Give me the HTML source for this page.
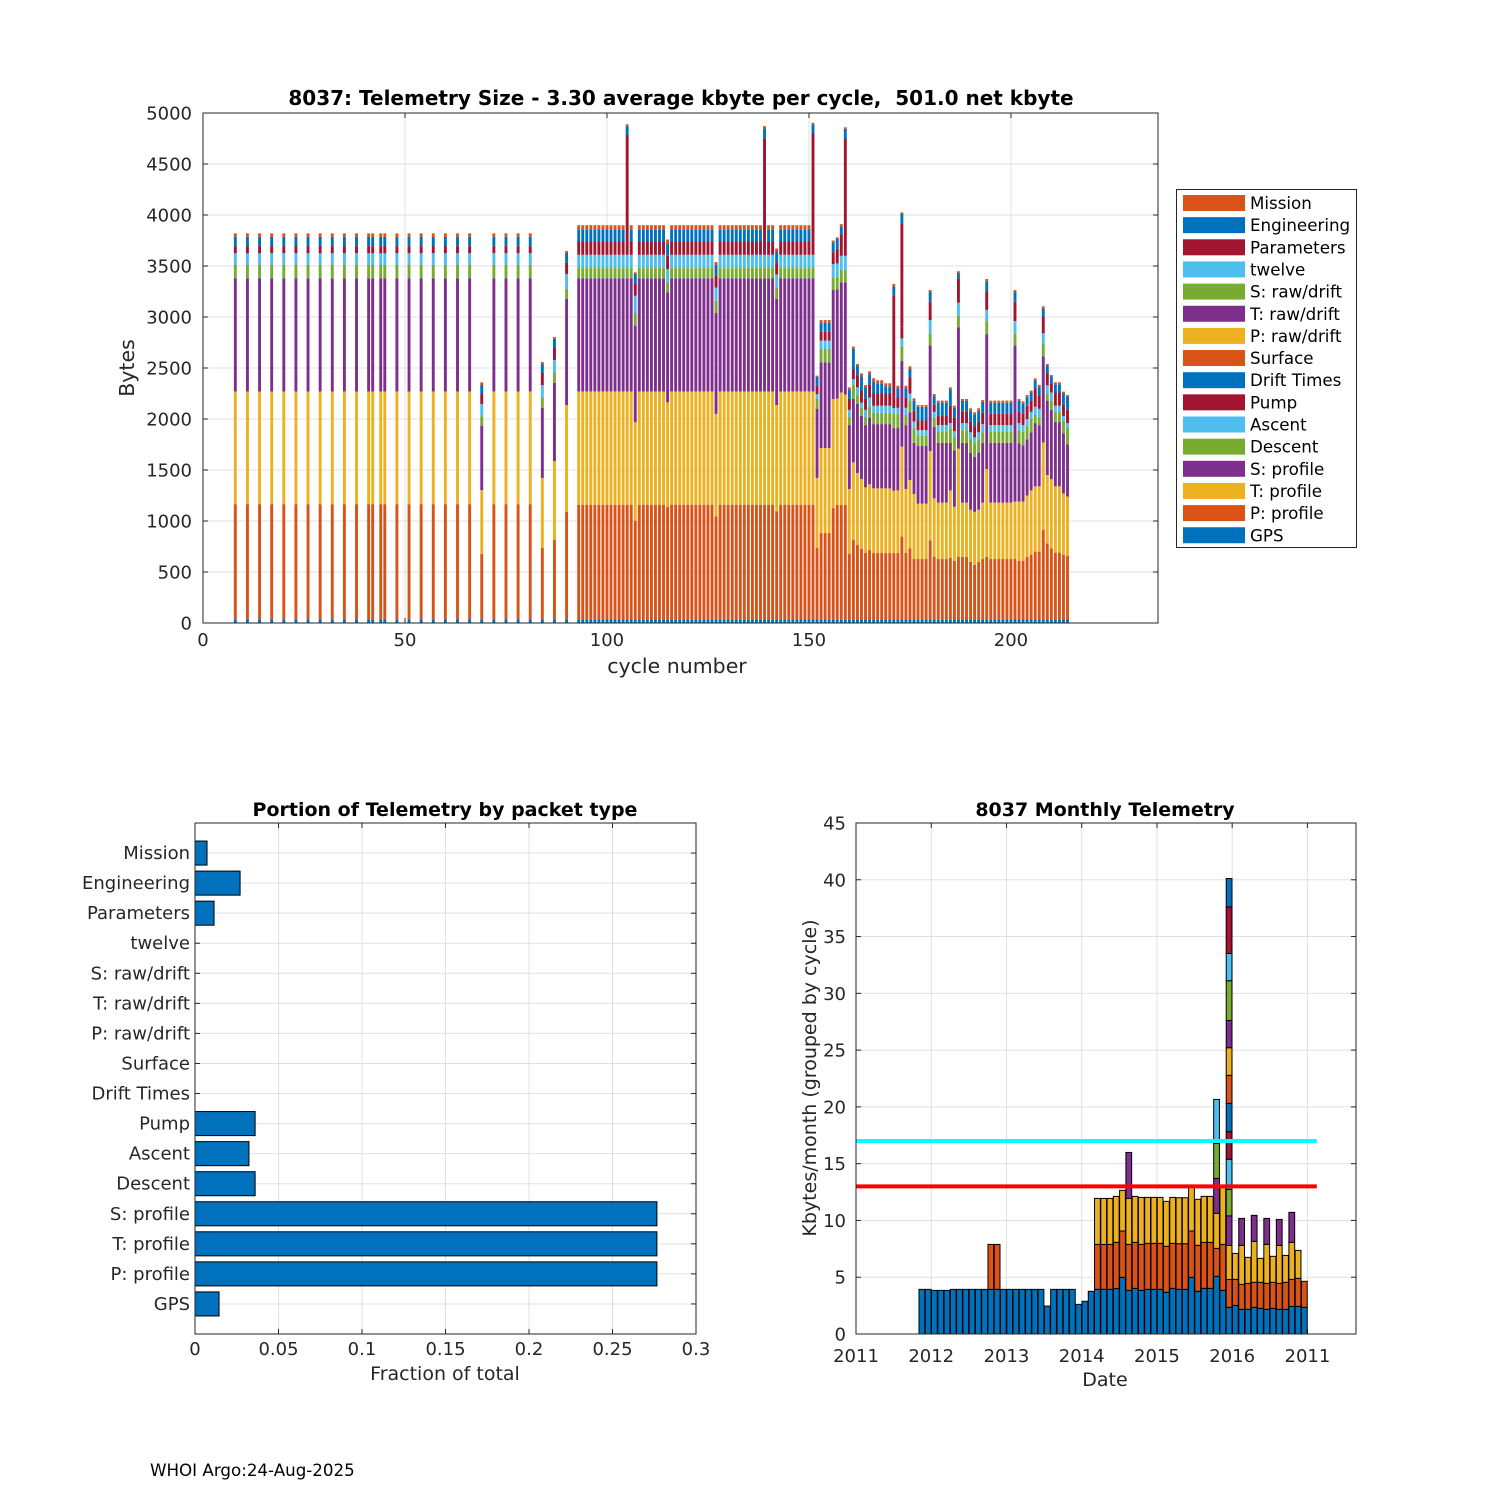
<!DOCTYPE html>
<html><head><meta charset="utf-8"><style>
html,body{margin:0;padding:0;background:#fff;}
svg{display:block;font-family:"DejaVu Sans","Liberation Sans",sans-serif;}
</style></head><body>
<svg id="chart" width="1500" height="1500" viewBox="0 0 1500 1500" xmlns="http://www.w3.org/2000/svg">
<rect x="0" y="0" width="1500" height="1500" fill="#fff"/>
<text x="681" y="105" font-size="20" font-weight="bold" text-anchor="middle" fill="#000" style="white-space:pre">8037: Telemetry Size - 3.30 average kbyte per cycle,  501.0 net kbyte</text>
<text x="677" y="673" font-size="20.5" text-anchor="middle" fill="#262626">cycle number</text>
<text x="0" y="0" font-size="20.5" text-anchor="middle" fill="#262626" transform="translate(134,368) rotate(-90)">Bytes</text>
<text x="445" y="816" font-size="19" font-weight="bold" text-anchor="middle" fill="#000">Portion of Telemetry by packet type</text>
<text x="445" y="1380" font-size="19" text-anchor="middle" fill="#262626">Fraction of total</text>
<text x="1105" y="816" font-size="19" font-weight="bold" text-anchor="middle" fill="#000">8037 Monthly Telemetry</text>
<text x="1105" y="1386" font-size="19" text-anchor="middle" fill="#262626">Date</text>
<text x="0" y="0" font-size="19" text-anchor="middle" fill="#262626" transform="translate(816,1078) rotate(-90)">Kbytes/month (grouped by cycle)</text>
<text x="150" y="1476" font-size="16.7" fill="#000">WHOI Argo:24-Aug-2025</text>
</svg>
<script>
// ---------- TOP CHART DATA ----------
const cycles = [8,11,14,17,20,23,26,29,32,35,38,41,42,44,45,48,51,54,57,60,63,66,69,72,75,78,81,84,87,90,
93,94,95,96,97,98,99,100,101,102,103,104,105,106,107,108,109,110,111,112,113,114,115,116,117,118,119,120,121,122,
123,124,125,126,127,128,129,130,131,132,133,134,135,136,137,138,139,140,141,142,143,144,145,146,147,148,149,150,151,152,
153,154,155,156,157,158,159,160,161,162,163,164,165,166,167,168,169,170,171,172,173,174,175,176,177,178,179,180,181,182,
183,184,185,186,187,188,189,190,191,192,193,194,195,196,197,198,199,200,201,202,203,204,205,206,207,208,209,210,211,212,213,214];
const gps = [35,35,35,35,35,35,35,35,35,35,35,35,35,35,35,35,35,35,35,35,35,35,35,35,35,35,35,35,35,35,
35,35,35,35,35,35,35,35,35,35,35,35,35,35,35,35,35,35,35,35,35,35,35,35,35,35,35,35,35,35,
35,35,35,35,35,35,35,35,35,35,35,35,35,35,35,35,35,35,35,35,35,35,35,35,35,35,35,35,35,35,
35,35,35,35,35,35,35,35,35,35,35,35,35,35,35,35,35,35,35,35,35,35,35,35,35,35,35,35,35,35,
35,35,35,35,35,35,35,35,35,35,35,35,35,35,35,35,35,35,35,35,35,35,35,35,35,35,35,35,35,35,35,35];
const pProfile = [1130,1130,1130,1130,1130,1130,1130,1130,1130,1130,1130,1130,1130,1130,1130,1130,1130,1130,1130,1130,1130,1130,642,1130,1130,1130,1130,700,779,1053,
1125,1125,1125,1125,1125,1125,1125,1125,1125,1125,
1125,1125,1125,1125,968,1125,1125,1125,1125,1125,
1125,1125,1103,1125,1125,1125,1125,1125,1125,1125,
1125,1125,1125,1125,1011,1125,1125,1125,1125,1125,
1125,1125,1125,1125,1125,1125,1125,1125,1125,1060,
1125,1125,1125,1125,1125,1125,1125,1125,1125,700,
847,847,847,1092,1122,1122,1122,642,778,729,
693,651,680,651,651,651,651,651,651,651,
812,651,697,592,592,592,592,775,612,592,
592,592,605,575,612,612,612,565,535,565,
592,612,592,592,592,592,592,592,595,575,
575,612,635,665,665,880,745,695,655,655,
635,625];
const tProfile = [1105,1105,1105,1105,1105,1105,1105,1105,1105,1105,1105,1105,1105,1105,1105,1105,1105,1105,1105,1105,1105,1105,627,1105,1105,1105,1105,687,774,1049,
1110,1110,1110,1110,1110,1110,1110,1110,1110,1110,
1110,1110,1110,1110,965,1110,1110,1110,1110,1110,
1110,1110,1026,1110,1110,1110,1110,1110,1110,1110,
1110,1110,1110,1110,1004,1110,1110,1110,1110,1110,
1110,1110,1110,1110,1110,1110,1110,1110,1110,1042,
1110,1110,1110,1110,1110,1110,1110,1110,1110,687,
833,833,833,1069,1043,1103,1083,637,762,707,
684,644,645,634,634,634,634,634,611,614,
882,628,670,638,543,543,543,876,575,553,
553,553,660,530,1063,533,533,510,520,510,
553,863,553,553,553,553,553,553,560,580,
580,603,630,640,640,855,670,680,650,650,
600,580];
const sProfile = [1110,1110,1110,1110,1110,1110,1110,1110,1110,1110,1110,1110,1110,1110,1110,1110,1110,1110,1110,1110,1110,1110,631,1110,1110,1110,1110,686,765,1040,
1110,1110,1110,1110,1110,1110,1110,1110,1110,1110,
1110,1110,1110,1110,947,1110,1110,1110,1110,1110,
1110,1110,1076,1110,1110,1110,1110,1110,1110,1110,
1110,1110,1110,1110,989,1110,1110,1110,1110,1110,
1110,1110,1110,1110,1110,1110,1110,1110,1110,1040,
1110,1110,1110,1110,1110,1110,1110,1110,1110,676,
840,840,840,1069,1070,1080,1100,626,621,679,
618,610,650,630,630,630,630,630,614,611,
839,626,664,502,565,565,565,1036,702,585,
585,585,465,553,1188,585,585,560,540,560,
587,1322,587,587,587,587,587,587,1532,570,
550,550,570,620,600,844,730,680,630,630,
590,510];
const descent = [130,130,130,130,130,130,130,130,130,130,130,130,130,130,130,130,130,130,130,130,130,130,91,130,130,130,130,98,98,98,
100,100,100,100,100,100,100,100,100,100,
100,100,100,100,124,100,100,100,100,100,
100,100,100,100,100,100,100,100,100,100,
100,100,100,100,120,100,100,100,100,100,
100,100,100,100,100,100,100,100,100,110,
100,100,100,100,100,100,100,100,100,98,
131,131,131,124,125,120,120,80,144,80,
80,80,110,110,110,110,110,110,138,139,
138,100,114,143,105,105,105,118,86,115,
115,115,145,127,112,125,125,130,130,130,
103,128,113,113,113,113,113,113,118,130,
140,130,130,80,80,116,70,90,100,100,
120,160];
const ascent = [115,115,115,115,115,115,115,115,115,115,115,115,115,115,115,115,115,115,115,115,115,115,121,115,115,115,115,127,128,147,
130,130,130,130,130,130,130,130,130,130,
130,130,130,130,170,130,130,130,130,130,
130,130,130,130,130,130,130,130,130,130,
130,130,130,130,130,130,130,130,130,130,
130,130,130,130,130,130,130,130,130,130,
130,130,130,130,130,130,130,130,130,49,
82,82,82,130,130,140,140,70,50,80,
50,70,90,70,70,70,70,70,59,60,
84,70,70,65,50,50,50,130,60,60,
60,60,50,60,130,70,70,70,60,70,
80,110,60,60,60,60,60,60,120,70,
60,70,70,80,80,110,80,80,60,60,
50,50];
const pump = [70,70,70,70,70,70,70,70,70,70,70,70,70,70,70,70,70,70,70,70,70,70,98,70,70,70,70,118,117,108,
130,130,130,130,130,130,130,130,130,130,
130,130,130,130,115,130,130,130,130,130,
130,130,130,130,130,130,130,130,130,130,
130,130,130,130,120,130,130,130,130,130,
130,130,130,130,130,130,130,130,130,120,
130,130,130,130,130,130,130,130,130,82,
88,88,88,115,145,210,130,106,100,120,
120,110,130,120,120,120,120,120,110,100,
120,100,160,105,95,95,95,180,70,90,
90,90,170,130,240,115,115,100,110,100,
110,180,110,110,110,110,110,110,190,110,
110,130,110,180,130,160,120,90,130,130,
110,130];
const parameters = [0,0,0,0,0,0,0,0,0,0,0,0,0,0,0,0,0,0,0,0,0,0,0,0,0,0,0,0,0,0,
0,0,0,0,0,0,0,0,0,0,
0,0,1044,0,0,0,0,0,0,0,
0,0,0,0,0,0,0,0,0,0,
0,0,0,0,0,0,0,0,0,0,
0,0,0,0,0,0,1011,0,0,0,
0,0,0,0,0,0,0,0,1054,0,
0,0,0,0,0,0,1015,0,0,0,
0,0,0,0,0,0,0,0,991,0,
1002,0,0,0,0,0,0,0,0,0,
0,0,0,0,0,0,0,0,0,0,
0,0,0,0,0,0,0,0,0,0,
0,0,0,0,0,0,0,0,0,0,
0,0];
const engineering = [90,90,90,90,90,90,90,90,90,90,90,90,90,90,90,90,90,90,90,90,90,90,88,90,90,90,90,88,89,98,
120,120,120,120,120,120,120,120,120,120,
120,120,85,120,98,120,120,120,120,120,
120,120,120,120,120,120,120,120,120,120,
120,120,120,120,100,120,120,120,120,120,
120,120,120,120,120,120,100,120,120,110,
120,120,120,120,120,120,120,120,95,88,
89,89,89,98,100,80,100,94,200,90,
140,110,100,120,100,100,70,70,91,90,
98,90,80,100,135,135,135,95,85,130,
130,130,160,100,50,105,105,110,115,110,
110,100,110,110,110,110,110,110,95,110,
100,85,80,80,85,85,75,70,80,80,
110,130];
const mission = [35,35,35,35,35,35,35,35,35,35,35,35,35,35,35,35,35,35,35,35,35,35,27,35,35,35,35,20,19,19,
40,40,40,40,40,40,40,40,40,40,
40,40,20,40,16,40,40,40,40,40,
40,40,40,40,40,40,40,40,40,40,
40,40,40,40,30,40,40,40,40,40,
40,40,40,40,40,40,20,40,40,25,
40,40,40,40,40,40,40,40,15,10,
25,25,25,18,10,20,15,20,20,19,
27,23,27,30,30,30,30,30,23,26,
16,26,26,23,17,17,17,19,20,20,
20,20,20,20,18,16,16,25,20,25,
16,22,20,20,20,20,20,20,19,16,
23,20,18,18,20,19,14,11,20,20,
18,15];
const topXTicks = [0,50,100,150,200];
const topYTicks = [0,500,1000,1500,2000,2500,3000,3500,4000,4500,5000];
const legendLabels = ["Mission","Engineering","Parameters","twelve","S: raw/drift","T: raw/drift","P: raw/drift","Surface","Drift Times","Pump","Ascent","Descent","S: profile","T: profile","P: profile","GPS"];

// ---------- PORTION CHART DATA ----------
const packetTypes = ["Mission","Engineering","Parameters","twelve","S: raw/drift","T: raw/drift","P: raw/drift","Surface","Drift Times","Pump","Ascent","Descent","S: profile","T: profile","P: profile","GPS"];
const packetFractions = [0.0072,0.027,0.0114,0,0,0,0,0,0,0.036,0.0323,0.036,0.2766,0.2766,0.2766,0.0144];
const portionXTicks = [0,0.05,0.1,0.15,0.2,0.25,0.3];
const portionXTickLabels = ["0","0.05","0.1","0.15","0.2","0.25","0.3"];

// ---------- MONTHLY CHART DATA ----------
const monthIndex = [10,11,12,13,14,15,16,17,18,19,20,21,22,23,24,25,26,27,28,29,30,31,32,33,34,35,36,37,38,39,40,41,42,43,44,45,46,47,48,49,50,51,52,53,54,55,56,57,58,59,60,61,62,63,64,65,66,67,68,69,70,71];
const monthlyCycleKb = [
[3.93],[3.93],[3.84],[3.84],[3.84],[3.93],[3.93],[3.93],[3.93],[3.93],[3.93],
[3.93,3.96],[3.93,3.96],
[3.93],[3.93],[3.93],[3.93],[3.93],[3.93],[3.93],
[2.46],[3.93],[3.93],[3.93],[3.93],[2.61],[2.88],[3.76],
[3.93,3.96,4.05],[3.93,3.96,4.05],[3.93,3.96,4.05],[4.0,4.07,4.05],[4.99,4.08,3.58],
[3.84,4.05,4.05,4.05],[4.02,4.05,4.05],[3.84,4.05,4.14],[3.93,4.05,4.05],[3.93,4.05,4.05],[3.93,4.05,4.05],
[3.67,4.05,3.96],[4.02,3.96,4.05],[3.93,4.02,4.05],[3.93,4.02,4.05],[4.99,4.08,3.9],[3.76,4.05,4.05],
[4.02,4.05,4.05],[4.02,4.05,4.05],
[5.08,2.46,3.08,3.08,3.08,3.88],
[3.84,4.05,5.0],
[2.35,2.45,3.0,2.6,2.34,2.65,2.43,2.49,2.47,2.43,2.4,3.5,2.4,4.1,2.5],
[2.52,2.29,2.29],[2.17,2.2,3.43,2.38],[2.17,2.29,2.29],[2.35,2.2,3.61,2.29],[2.26,2.29,2.11],
[2.17,2.29,3.43,2.29],[2.26,2.29,2.29],[2.17,2.29,3.34,2.29],[2.17,2.38,2.37],[2.43,2.38,3.26,2.64],
[2.43,2.47,2.46],[2.35,2.29]];
const monthXTicks = [0,12,24,36,48,60,72];
const monthXTickLabels = ["2011","2012","2013","2014","2015","2016","2011"];
const monthYTicks = [0,5,10,15,20,25,30,35,40,45];
const upperLimit = [17];
const lowerLimit = [13];

// ---------- RENDER ----------
const NS = 'http://www.w3.org/2000/svg';
const svg = document.getElementById('chart');
const COLORS = ['#0072BD','#D95319','#EDB120','#7E2F8E','#77AC30','#4DBEEE','#A2142F'];
const TICK_FS = 18;
function mk(tag, attrs, parent){
  const e = document.createElementNS(NS, tag);
  for (const k in attrs) e.setAttribute(k, attrs[k]);
  (parent || svg).appendChild(e);
  return e;
}

// top axes
const T = {l:203, r:1158, t:113, b:623, xmax:236.4, ymax:5000};
const xT = c => T.l + c * (T.r - T.l) / T.xmax;
const yT = v => T.b - v * (T.b - T.t) / T.ymax;
const gTop = mk('g', {});


mk('rect', {x:T.l, y:T.t, width:T.r-T.l, height:T.b-T.t, fill:'#fff'}, gTop);
topYTicks.forEach(v => {
  const g = mk('line', {x1:T.l, x2:T.r, y1:yT(v), y2:yT(v), stroke:'#e0e0e0', 'stroke-width':1}, gTop);
  
  
  const t = mk('text', {x:T.l-11, y:yT(v)+6.5, 'font-size':TICK_FS, 'text-anchor':'end', fill:'#262626'}, gTop);
  t.textContent = v;
  
  
});
topXTicks.forEach(c => {
  const g = mk('line', {x1:xT(c), x2:xT(c), y1:T.t, y2:T.b, stroke:'#e0e0e0', 'stroke-width':1}, gTop);
  
  
  mk('line', {x1:xT(c), x2:xT(c), y1:T.b, y2:T.b-5, stroke:'#262626'}, gTop);
  mk('line', {x1:xT(c), x2:xT(c), y1:T.t, y2:T.t+5, stroke:'#262626'}, gTop);
  const t = mk('text', {x:xT(c), y:T.b+23, 'font-size':TICK_FS, 'text-anchor':'middle', fill:'#262626'}, gTop);
  t.textContent = c;
  
  
});
const layers = [gps,pProfile,tProfile,sProfile,descent,ascent,pump,parameters,engineering,mission];
const layerColors = ['#0072BD','#D95319','#EDB120','#7E2F8E','#77AC30','#4DBEEE','#A2142F','#A2142F','#0072BD','#D95319'];
const layerNames = ['gps','p-profile','t-profile','s-profile','descent','ascent','pump','parameters','engineering','mission'];
const bw = 0.72 * (T.r - T.l) / T.xmax;
cycles.forEach((c, i) => {
  let acc = 0;
  layers.forEach((arr, k) => {
    const v = arr[i];
    if (!v) return;
    const r = mk('rect', {x:xT(c)-bw/2, y:yT(acc+v), width:bw, height:yT(acc)-yT(acc+v), fill:layerColors[k]}, gTop);
    
    
    acc += v;
  });
});
const frameT = mk('rect', {x:T.l, y:T.t, width:T.r-T.l, height:T.b-T.t, fill:'none', stroke:'#262626', 'stroke-width':1}, gTop);


topYTicks.forEach(v => {
  mk('line', {x1:T.l, x2:T.l+5, y1:yT(v), y2:yT(v), stroke:'#262626'}, gTop);
  mk('line', {x1:T.r, x2:T.r-5, y1:yT(v), y2:yT(v), stroke:'#262626'}, gTop);
});

// legend
const legColors = ['#D95319','#0072BD','#A2142F','#4DBEEE','#77AC30','#7E2F8E','#EDB120','#D95319','#0072BD','#A2142F','#4DBEEE','#77AC30','#7E2F8E','#EDB120','#D95319','#0072BD'];
const gLeg = mk('g', {});


mk('rect', {x:1176.5, y:189.5, width:180, height:358, fill:'#fff', stroke:'#262626'}, gLeg);
legendLabels.forEach((lab, i) => {
  const y = 203 + i * 22.15;
  const s = mk('rect', {x:1183, y:y-8, width:62, height:16, fill:legColors[i]}, gLeg);
  
  
  const t = mk('text', {x:1250, y:y+6, 'font-size':16.7, fill:'#000'}, gLeg);
  t.textContent = lab;
  
  
});

// portion chart
const P = {l:195, r:696, t:823, b:1334, xmax:0.3};
const xP = v => P.l + v * (P.r - P.l) / P.xmax;
const yP = i => P.t + (i + 1) * (P.b - P.t) / 17;
const gP = mk('g', {});


portionXTicks.forEach((v, i) => {
  mk('line', {x1:xP(v), x2:xP(v), y1:P.t, y2:P.b, stroke:'#e0e0e0'}, gP);
  mk('line', {x1:xP(v), x2:xP(v), y1:P.b, y2:P.b-5, stroke:'#262626'}, gP);
  mk('line', {x1:xP(v), x2:xP(v), y1:P.t, y2:P.t+5, stroke:'#262626'}, gP);
  const t = mk('text', {x:xP(v), y:P.b+21, 'font-size':TICK_FS, 'text-anchor':'middle', fill:'#262626'}, gP);
  t.textContent = portionXTickLabels[i];
  
  
});
packetTypes.forEach((name, i) => {
  mk('line', {x1:P.l, x2:P.r, y1:yP(i), y2:yP(i), stroke:'#e0e0e0'}, gP);
  mk('line', {x1:P.l, x2:P.l+5, y1:yP(i), y2:yP(i), stroke:'#262626'}, gP);
  mk('line', {x1:P.r, x2:P.r-5, y1:yP(i), y2:yP(i), stroke:'#262626'}, gP);
  const t = mk('text', {x:P.l-5, y:yP(i)+6, 'font-size':TICK_FS, 'text-anchor':'end', fill:'#262626'}, gP);
  t.textContent = name;
  
  
});
packetTypes.forEach((name, i) => {
  const v = packetFractions[i];
  if (!v) return;
  const h = 0.8 * (P.b - P.t) / 17;
  const r = mk('rect', {x:xP(0), y:yP(i)-h/2, width:xP(v)-xP(0), height:h, fill:'#0072BD', stroke:'#000', 'stroke-width':1}, gP);
  
  
});
const frameP = mk('rect', {x:P.l, y:P.t, width:P.r-P.l, height:P.b-P.t, fill:'none', stroke:'#262626'}, gP);



// monthly chart
const M = {l:856, r:1356, t:823, b:1334, xmax:79.75, ymax:45};
const xM = m => M.l + m * (M.r - M.l) / M.xmax;
const yM = v => M.b - v * (M.b - M.t) / M.ymax;
const gM = mk('g', {});


monthYTicks.forEach(v => {
  mk('line', {x1:M.l, x2:M.r, y1:yM(v), y2:yM(v), stroke:'#e0e0e0'}, gM);
  mk('line', {x1:M.l, x2:M.l+5, y1:yM(v), y2:yM(v), stroke:'#262626'}, gM);
  mk('line', {x1:M.r, x2:M.r-5, y1:yM(v), y2:yM(v), stroke:'#262626'}, gM);
  const t = mk('text', {x:M.l-10, y:yM(v)+6.5, 'font-size':TICK_FS, 'text-anchor':'end', fill:'#262626'}, gM);
  t.textContent = v;
  
  
});
monthXTicks.forEach((m, i) => {
  mk('line', {x1:xM(m), x2:xM(m), y1:M.t, y2:M.b, stroke:'#e0e0e0'}, gM);
  mk('line', {x1:xM(m), x2:xM(m), y1:M.b, y2:M.b-5, stroke:'#262626'}, gM);
  mk('line', {x1:xM(m), x2:xM(m), y1:M.t, y2:M.t+5, stroke:'#262626'}, gM);
  const t = mk('text', {x:xM(m), y:M.b+28, 'font-size':TICK_FS, 'text-anchor':'middle', fill:'#262626'}, gM);
  t.textContent = monthXTickLabels[i];
  
  
});
monthIndex.forEach((m, i) => {
  let acc = 0;
  monthlyCycleKb[i].forEach((v, k) => {
    const r = mk('rect', {x:xM(m)+0.3, y:yM(acc+v), width:xM(m+0.92)-xM(m), height:yM(acc)-yM(acc+v), fill:COLORS[k % 7], stroke:'#000', 'stroke-width':1}, gM);
    
    
    acc += v;
  });
});
const cyanLine = mk('line', {x1:xM(0), x2:xM(73.5), y1:yM(upperLimit[0]), y2:yM(upperLimit[0]), stroke:'#00FFFF', 'stroke-width':4}, gM);


const redLine = mk('line', {x1:xM(0), x2:xM(73.5), y1:yM(lowerLimit[0]), y2:yM(lowerLimit[0]), stroke:'#FF0000', 'stroke-width':4}, gM);


const frameM = mk('rect', {x:M.l, y:M.t, width:M.r-M.l, height:M.b-M.t, fill:'none', stroke:'#262626'}, gM);


</script>
</body></html>
